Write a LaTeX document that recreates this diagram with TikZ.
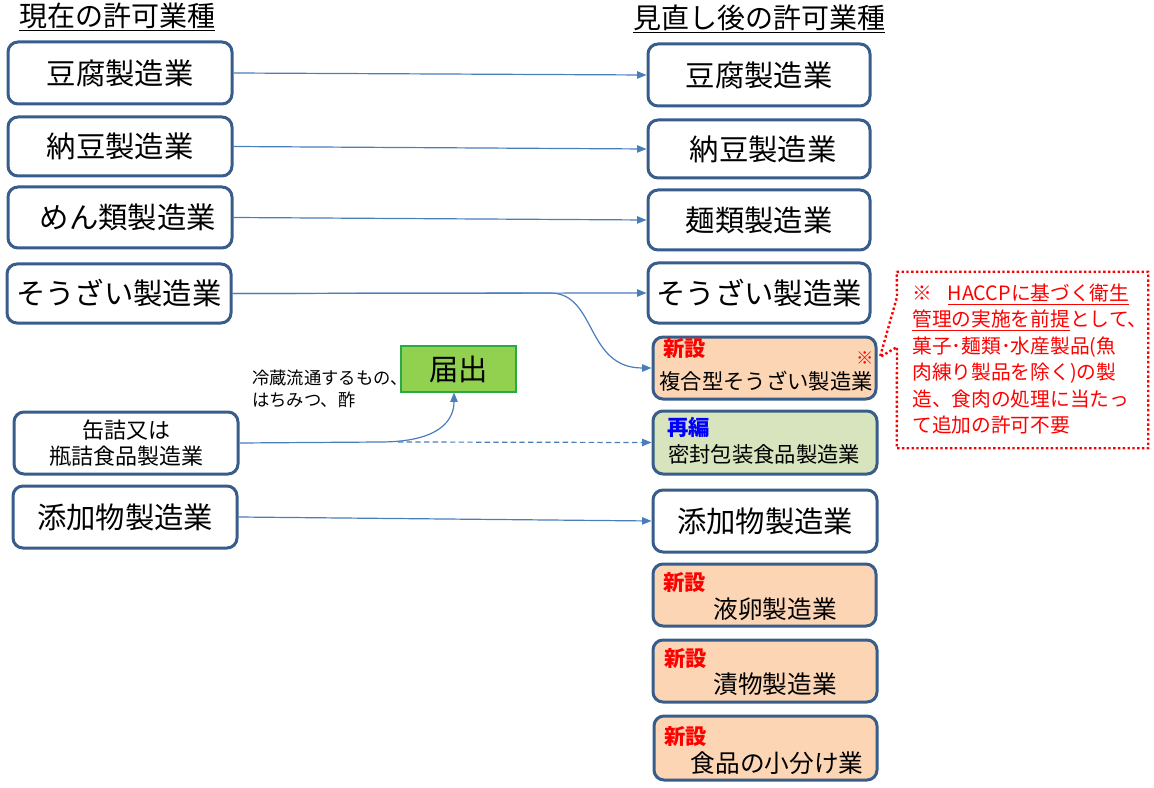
\documentclass[tikz,border=0pt]{standalone}
\usepackage{fontspec}
\setmainfont{Noto Sans CJK JP}
\usetikzlibrary{fit,arrows.meta,calc}
\definecolor{boxline}{RGB}{56,93,138}
\definecolor{arrowblue}{RGB}{74,126,187}
\definecolor{orangefill}{RGB}{252,213,181}
\definecolor{greenfill}{RGB}{215,228,189}
\definecolor{todokefill}{RGB}{146,208,80}
\definecolor{todokeline}{RGB}{40,170,70}
\definecolor{tagblue}{RGB}{0,0,255}
\tikzset{
  box/.style={draw=boxline, line width=2.25pt, rounded corners=7.5pt, fill=white, inner sep=0pt},
  newbox/.style={box, fill=orangefill},
  grnbox/.style={box, fill=greenfill},
  arr/.style={draw=arrowblue, line width=0.9pt, -{Triangle[length=7pt,width=5.5pt]}},
  big/.style={font=\fontsize{22pt}{26pt}\selectfont, inner sep=0pt},
  mid/.style={font=\fontsize{16pt}{20pt}\selectfont, inner sep=0pt},
  midl/.style={font=\fontsize{18.5pt}{22pt}\selectfont, inner sep=0pt},
  tagred/.style={font=\fontsize{16pt}{18pt}\selectfont\bfseries, text=red, anchor=west, inner sep=0pt},
  tagblu/.style={font=\fontsize{16pt}{18pt}\selectfont\bfseries, text=tagblue, anchor=west, inner sep=0pt},
  header/.style={font=\fontsize{21pt}{24pt}\selectfont, anchor=west, inner sep=0pt},
  reddot/.style={draw=red, line width=1.8pt, dash pattern=on 1.8pt off 1.8pt},
}
\begin{document}
\begin{tikzpicture}[x=0.75pt,y=-0.75pt]
\useasboundingbox (0,0) rectangle (1154,788);

% headers
\node[header] (h1) at (19,17) {\underline{現在の許可業種}};
\node[header] (h2) at (633,19) {\underline{見直し後の許可業種}};

% left boxes
\node[box, fit={(8,42)(232,104)}] (l1) {};
\node[big] (l1t) at (l1.center) {豆腐製造業};
\node[box, fit={(8,117)(232,176)}] (l2) {};
\node[big] (l2t) at (l2.center) {納豆製造業};
\node[box, fit={(8,187)(232,248)}] (l3) {};
\node[big] (l3t) at ([xshift=6]l3.center) {めん類製造業};
\node[box, fit={(7,264)(231,323)}] (l4) {};
\node[big] (l4t) at (l4.center) {そうざい製造業};
\node[box, fit={(14,412)(238,474)}] (l6) {};
\node[align=center, inner sep=0pt, font=\fontsize{16.5pt}{20pt}\selectfont] (l6t) at (l6.center) {缶詰又は\\瓶詰食品製造業};
\node[box, fit={(13,486)(237,548)}] (l7) {};
\node[big] (l7t) at (l7.center) {添加物製造業};

% right boxes
\node[box, fit={(648,44)(870,106)}] (r1) {};
\node[big] (r1t) at (r1.center) {豆腐製造業};
\node[box, fit={(648,120)(870,178)}] (r2) {};
\node[big] (r2t) at ([xshift=3]r2.center) {納豆製造業};
\node[box, fit={(648,190)(870,250)}] (r3) {};
\node[big] (r3t) at (r3.center) {麺類製造業};
\node[box, fit={(648,263)(870,323)}] (r4) {};
\node[big] (r4t) at (r4.center) {そうざい製造業};

\node[newbox, fit={(653,337)(876,399)}] (r5) {};
\node[tagred] (r5t) at (663,349) {新設};
\node[mid] (r5m) at (766,381) {複合型そうざい製造業};
\node[font=\fontsize{13pt}{14pt}\selectfont, text=red, inner sep=0pt] (kome) at (865,358) {※};

\node[grnbox, fit={(653,411)(877,474)}] (r6) {};
\node[tagblu] (r6t) at (667,427) {再編};
\node[mid] (r6m) at (764,454) {密封包装食品製造業};

\node[box, fit={(653,490)(877,552)}] (r7) {};
\node[big] (r7t) at (r7.center) {添加物製造業};

\node[newbox, fit={(653,564)(876,626)}] (r8) {};
\node[tagred] (r8t) at (663,583) {新設};
\node[midl] (r8m) at (775,609) {液卵製造業};

\node[newbox, fit={(653,640)(877,702)}] (r9) {};
\node[tagred] (r9t) at (664,659) {新設};
\node[midl] (r9m) at (775,684) {漬物製造業};

\node[newbox, fit={(654,716)(877,780)}] (r10) {};
\node[tagred] (r10t) at (664,737) {新設};
\node[midl] (r10m) at (777,763) {食品の小分け業};

% label and todoke
\node[anchor=west, align=left, inner sep=0pt, font=\fontsize{13pt}{16.5pt}\selectfont] (lbl) at (252,389) {冷蔵流通するもの、\\はちみつ、酢};
\node[draw=todokeline, line width=0.8pt, fill=todokefill, inner sep=0pt, fit={(401,346)(516,392)}] (td) {};
\node[big] (tdt) at (td.center) {届出};

% connectors
\draw[arr] (l1.east) -- (r1.west);
\draw[arr] (l2.east) -- (r2.west);
\draw[arr] (l3.east) -- (r3.west);
\draw[arr] (l4.east) -- (r4.west);
\draw[arr] (l4.east) -- (550,293) .. controls (597,293) and (585,368) .. (r5.west);
\coordinate (split) at (398,442);
\draw[arr] (l6.east) -- (380,442) .. controls (440,442) and (454,420) .. (td.south -| 454,0);
\draw[arr, dash pattern=on 4pt off 2.5pt] (split) -- (r6.west);
\draw[arr] (l7.east) -- (r7.west);

% note
\node[inner sep=0pt, fit={(897,272)(1148,448)}] (note) {};
\coordinate (t1) at (897,297);
\coordinate (tip) at (880,357);
\coordinate (t2) at (897,347);
\draw[reddot] (note.north west) -- (note.north east) -- (note.south east) -- (note.south west) -- (t2) -- (tip) -- (t1) -- cycle;
\node[anchor=west, align=left, inner sep=0pt, text=red, font=\fontsize{14.8pt}{19.8pt}\selectfont] (notetext) at (912,359)
 {※\hspace{0.8em}\underline{HACCPに基づく衛生}\\
  \underline{管理の実施を前提}として、\\
  菓子･麺類･水産製品(魚\\
  肉練り製品を除く)の製\\
  造、食肉の処理に当たっ\\
  て追加の許可不要};
\end{tikzpicture}
\end{document}
